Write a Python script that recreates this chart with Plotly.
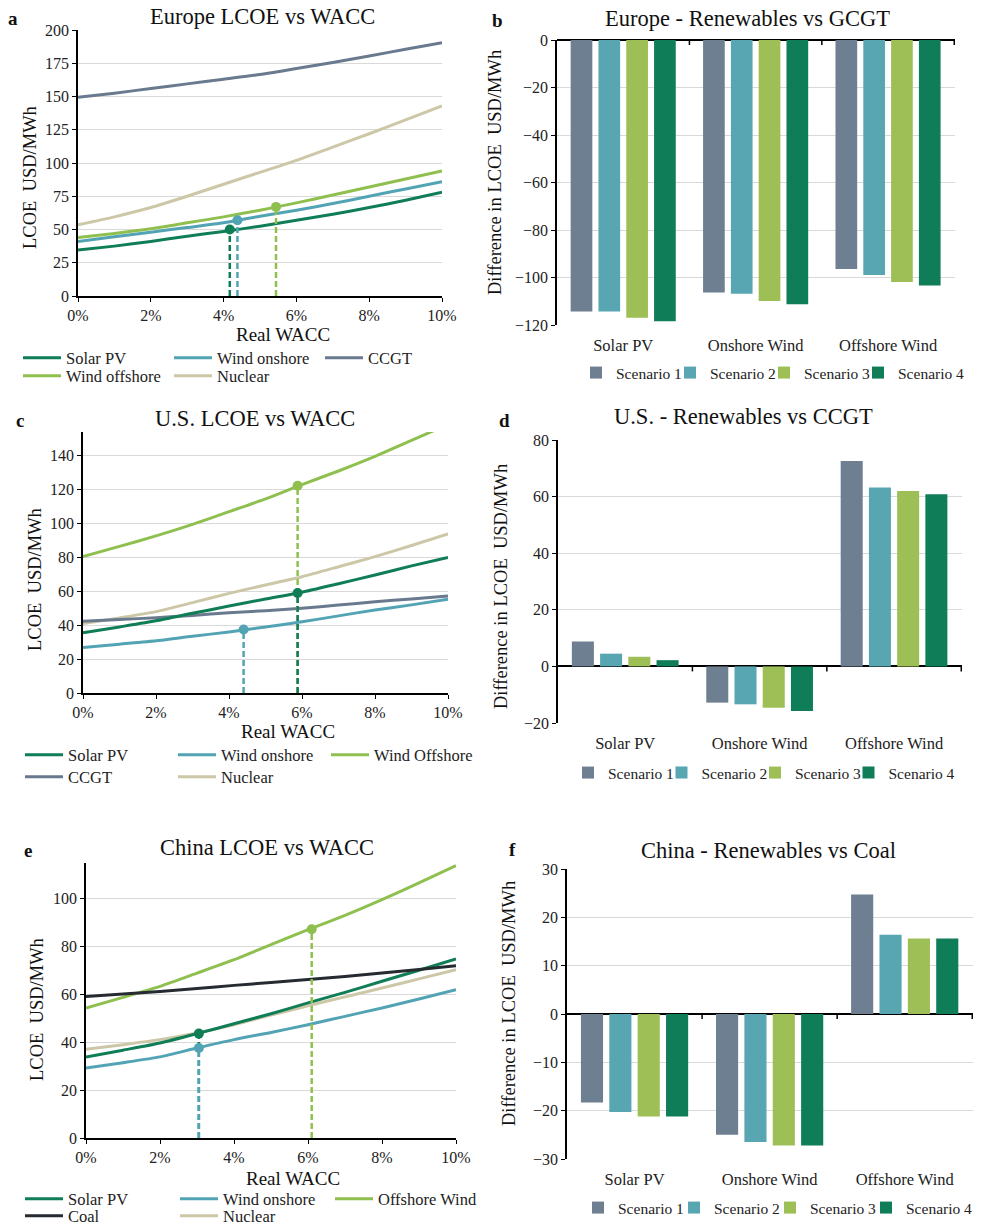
import plotly.graph_objects as go

W, H = 983, 1225
FONT = "'Liberation Serif', 'Times New Roman', serif"

# ---------------- data ----------------
wacc = [0, 1, 2, 3, 4, 5, 6, 7, 8, 9, 10]

# Europe (panel a)
eu_solar = [34.5, 37.5, 41, 45, 48.5, 52.5, 57, 61.5, 66.5, 72, 78]
eu_onshore = [41, 44.5, 48, 51.5, 55, 60, 64.5, 69.5, 75, 80.5, 86]
eu_ccgt = [149.5, 152.5, 156, 159.5, 163, 166.5, 171, 175.5, 180.5, 185.5, 190.5]
eu_offshore = [44, 47, 50.5, 55, 59.5, 64.5, 70, 76, 82, 88, 94]
eu_nuclear = [53.5, 59.5, 66.5, 75, 84, 93, 102, 112, 122, 132.5, 143]
eu_mark_x = [4.17, 4.38, 5.44]
eu_mark_y = [50, 57, 67]

# U.S. (panel c)
us_solar = [35.5, 39, 42.6, 47, 51.3, 55.5, 59.5, 64.5, 69.6, 75, 80]
us_onshore = [26.8, 28.8, 30.8, 33.5, 36, 39, 42, 45.5, 49, 52, 55.4]
us_offshore = [80.5, 86.5, 92.7, 99.5, 107, 114.5, 123, 131, 139.6, 149, 158.5]
us_ccgt = [42.4, 43.4, 44.4, 45.8, 47.3, 48.6, 50, 51.9, 53.8, 55.5, 57.2]
us_nuclear = [41, 44.3, 48, 53.3, 58.8, 63.7, 68.6, 74.5, 80.5, 87, 93.9]
us_mark_x = [5.88, 4.4, 5.88]
us_mark_y = [59, 37.5, 122.3]

# China (panel e)
cn_solar = [33.7, 36.6, 39.6, 43.5, 47.6, 51.8, 56.3, 60.7, 65.3, 69.9, 74.6]
cn_onshore = [29.2, 31.4, 33.8, 37.5, 41, 44, 47.2, 50.7, 54.2, 57.9, 61.8]
cn_offshore = [54.2, 58.6, 63.2, 68.7, 74.3, 80.6, 86.8, 92.8, 99.3, 106.3, 113.5]
cn_coal = [59, 60, 61.1, 62.3, 63.6, 64.8, 66, 67.3, 68.75, 70.2, 71.8]
cn_nuclear = [37, 38.9, 41, 43.8, 47.2, 51.2, 55.1, 58.8, 62.5, 66.3, 70.1]
cn_mark_x = [3.05, 3.05, 6.1]
cn_mark_y = [43.5, 37.5, 87]

# bar panels
categories = ["Solar PV", "Onshore Wind", "Offshore Wind"]
scenarios = ["Scenario 1", "Scenario 2", "Scenario 3", "Scenario 4"]
eu_diff = [[-114.3, -106.3, -96.4],
           [-114.3, -106.8, -98.9],
           [-116.9, -109.9, -101.9],
           [-118.4, -111.3, -103.4]]
us_diff = [[8.8, -12.8, 72.6],
           [4.5, -13.4, 63.2],
           [3.4, -14.6, 62.0],
           [2.2, -15.8, 60.8]]
cn_diff = [[-18.3, -25.0, 24.7],
           [-20.3, -26.5, 16.4],
           [-21.2, -27.2, 15.6],
           [-21.2, -27.2, 15.6]]

C_SOLAR = "#0F7D56"
C_ON = "#52A4B5"
C_CCGT = "#6A7A8E"
C_OFF = "#8FC04F"
C_NUC = "#CCC7A6"
C_COAL = "#262B31"
C_SCEN = ["#6D7F90", "#58A6B2", "#9DBF56", "#0E7D58"]
GRID = "#D9D9D9"


def fx(p):
    return p / W


def fy(p):
    return 1 - p / H


fig = go.Figure()


def line(xax, yax, y, name, color):
    fig.add_trace(go.Scatter(x=wacc, y=y, name=name, mode="lines",
                             line=dict(color=color, width=3, shape="spline", smoothing=0.6),
                             xaxis=xax, yaxis=yax, showlegend=False, hoverinfo="skip"))


def drop(xax, yax, xm, ym, color):
    fig.add_trace(go.Scatter(x=[xm, xm], y=[0, ym], mode="lines",
                             line=dict(color=color, width=2.5, dash="6px,3px"),
                             xaxis=xax, yaxis=yax, showlegend=False, hoverinfo="skip"))
    fig.add_trace(go.Scatter(x=[xm], y=[ym], mode="markers",
                             marker=dict(color=color, size=10),
                             xaxis=xax, yaxis=yax, showlegend=False, hoverinfo="skip"))


def legend_entries(xax, yax, items):
    for nm, col, lg in items:
        fig.add_trace(go.Scatter(x=[None], y=[None], name=nm, mode="lines",
                                 line=dict(color=col, width=3), xaxis=xax, yaxis=yax,
                                 legend=lg, hoverinfo="skip"))


# ---- panel a ----
line("x", "y", eu_nuclear, "Nuclear", C_NUC)
line("x", "y", eu_ccgt, "CCGT", C_CCGT)
line("x", "y", eu_offshore, "Wind offshore", C_OFF)
line("x", "y", eu_onshore, "Wind onshore", C_ON)
line("x", "y", eu_solar, "Solar PV", C_SOLAR)
drop("x", "y", eu_mark_x[2], eu_mark_y[2], C_OFF)
drop("x", "y", eu_mark_x[1], eu_mark_y[1], C_ON)
drop("x", "y", eu_mark_x[0], eu_mark_y[0], C_SOLAR)
legend_entries("x", "y", [("Solar PV", C_SOLAR, "legend"), ("Wind onshore", C_ON, "legend"),
                          ("CCGT", C_CCGT, "legend"), ("Wind offshore", C_OFF, "legend2"),
                          ("Nuclear", C_NUC, "legend2")])

# ---- panel c ----
line("x3", "y3", us_nuclear, "Nuclear", C_NUC)
line("x3", "y3", us_ccgt, "CCGT", C_CCGT)
line("x3", "y3", us_onshore, "Wind onshore", C_ON)
line("x3", "y3", us_solar, "Solar PV", C_SOLAR)
line("x3", "y3", us_offshore, "Wind Offshore", C_OFF)
drop("x3", "y3", us_mark_x[2], us_mark_y[2], C_OFF)
drop("x3", "y3", us_mark_x[0], us_mark_y[0], C_SOLAR)
drop("x3", "y3", us_mark_x[1], us_mark_y[1], C_ON)
legend_entries("x3", "y3", [("Solar PV", C_SOLAR, "legend3"), ("Wind onshore", C_ON, "legend3"),
                            ("Wind Offshore", C_OFF, "legend3"), ("CCGT", C_CCGT, "legend4"),
                            ("Nuclear", C_NUC, "legend4")])

# ---- panel e ----
line("x5", "y5", cn_nuclear, "Nuclear", C_NUC)
line("x5", "y5", cn_solar, "Solar PV", C_SOLAR)
line("x5", "y5", cn_onshore, "Wind onshore", C_ON)
line("x5", "y5", cn_offshore, "Offshore Wind", C_OFF)
line("x5", "y5", cn_coal, "Coal", C_COAL)
drop("x5", "y5", cn_mark_x[2], cn_mark_y[2], C_OFF)
drop("x5", "y5", cn_mark_x[0], cn_mark_y[0], C_SOLAR)
drop("x5", "y5", cn_mark_x[1], cn_mark_y[1], C_ON)
legend_entries("x5", "y5", [("Solar PV", C_SOLAR, "legend5"), ("Wind onshore", C_ON, "legend5"),
                            ("Offshore Wind", C_OFF, "legend5"), ("Coal", C_COAL, "legend6"),
                            ("Nuclear", C_NUC, "legend6")])

# ---- bar panels (each scenario in its own one-item legend) ----
bar_panels = [(eu_diff, "x2", "y2", 7), (us_diff, "x4", "y4", 11), (cn_diff, "x6", "y6", 15)]
for data, xax, yax, l0 in bar_panels:
    for i, s in enumerate(scenarios):
        fig.add_trace(go.Bar(x=categories, y=data[i], name=s, marker_color=C_SCEN[i],
                             marker_line_width=0, xaxis=xax, yaxis=yax,
                             legend="legend%d" % (l0 + i), hoverinfo="skip"))

# ---------------- layout ----------------
tickfont = dict(family=FONT, size=16, color="#222")


def line_axes(xn, yn, xpx, ypx, yrange, dtick):
    fig.layout[xn] = dict(domain=[fx(xpx[0]), fx(xpx[1])], range=[0, 10], dtick=2,
                          ticksuffix="%", showgrid=False, showline=True, linecolor="black",
                          linewidth=1.5, ticks="outside", ticklen=4, tickcolor="black",
                          tickfont=tickfont, zeroline=False, anchor=yn.replace("axis", ""),
                          fixedrange=True, automargin=False)
    fig.layout[yn] = dict(domain=[fy(ypx[1]), fy(ypx[0])], range=yrange, dtick=dtick,
                          showgrid=True, gridcolor=GRID, gridwidth=1, showline=True,
                          linecolor="black", linewidth=1.5, ticks="outside", ticklen=4,
                          tickcolor="black", tickfont=tickfont, zeroline=False,
                          anchor=xn.replace("axis", ""), fixedrange=True, automargin=False)


def bar_axes(xn, yn, xpx, ypx, yrange, dtick):
    fig.layout[xn] = dict(domain=[fx(xpx[0]), fx(xpx[1])], type="category",
                          showgrid=False, showline=False, ticks="", ticklabelstandoff=8,
                          tickfont=dict(family=FONT, size=16.5, color="#222"),
                          anchor=yn.replace("axis", ""), fixedrange=True, automargin=False)
    fig.layout[yn] = dict(domain=[fy(ypx[1]), fy(ypx[0])], range=yrange, dtick=dtick,
                          showgrid=True, gridcolor=GRID, gridwidth=1, showline=True,
                          linecolor="black", linewidth=1.5, ticks="outside", ticklen=4,
                          tickcolor="black", tickfont=tickfont, zeroline=True,
                          zerolinecolor="black", zerolinewidth=1.5,
                          anchor=xn.replace("axis", ""), fixedrange=True, automargin=False)


line_axes("xaxis", "yaxis", (78, 442), (30, 296), [0, 200], 25)
bar_axes("xaxis2", "yaxis2", (557, 955), (40, 325), [-120, 0], 20)
line_axes("xaxis3", "yaxis3", (83, 448), (432, 693), [0, 154], 20)
bar_axes("xaxis4", "yaxis4", (558, 962), (440, 723), [-20, 80], 20)
line_axes("xaxis5", "yaxis5", (86, 456), (863, 1138), [0, 114.6], 20)
bar_axes("xaxis6", "yaxis6", (567, 973), (869, 1159), [-30, 30], 10)

# small category-boundary tick marks on the zero line of the bar panels
shapes = []
for xr, yr in [("x2", "y2"), ("x4", "y4"), ("x6", "y6")]:
    for b in [0.5, 1.5, 2.5]:
        shapes.append(dict(type="line", xref=xr, yref=yr, x0=b, x1=b,
                           ysizemode="pixel", yanchor=0, y0=0, y1=-5,
                           line=dict(color="black", width=1.5)))


def legend(xpx, ypx, size, ew=0, iw=38):
    d = dict(x=fx(xpx), y=fy(ypx), xanchor="left", yanchor="middle", orientation="h",
             font=dict(family=FONT, size=size, color="#222"), bgcolor="rgba(0,0,0,0)",
             itemwidth=iw, tracegroupgap=0, traceorder="normal",
             itemclick=False, itemdoubleclick=False)
    if ew:
        d.update(entrywidth=ew, entrywidthmode="pixels")
    return d


legends = dict(
    legend=legend(18, 358, 16.5, 98),
    legend2=legend(18, 376, 16.5, 98),
    legend3=legend(20, 755, 16.5, 100),
    legend4=legend(20, 777, 16.5, 100),
    legend5=legend(20, 1199, 16.5, 102),
    legend6=legend(20, 1216, 16.5, 102),
)
# bar legends: starting x of first entry and pitch per panel
bar_leg_pos = [(7, 576, 373, 94), (11, 568, 773, 93.5), (15, 578, 1208, 96)]
for l0, x0, y0, pitch in bar_leg_pos:
    for i in range(4):
        legends["legend%d" % (l0 + i)] = legend(x0 + i * pitch, y0, 15.5, 0, 30)
fig.update_layout(**legends)

ann = []


def text(x, y, s, size, bold=False, angle=0):
    ann.append(dict(x=fx(x), y=fy(y), xref="paper", yref="paper",
                    text=("<b>%s</b>" % s) if bold else s,
                    showarrow=False, xanchor="center", yanchor="middle", textangle=angle,
                    font=dict(family=FONT, size=size, color="#111")))


# panel letters
text(13, 19, "a", 19, True)
text(497, 21, "b", 19, True)
text(20, 420, "c", 19, True)
text(505, 420, "d", 19, True)
text(28, 850, "e", 19, True)
text(512, 849, "f", 19, True)
# titles
text(262, 17, "Europe LCOE vs WACC", 22.5)
text(747, 19, "Europe - Renewables vs GCGT", 22.5)
text(255, 418, "U.S. LCOE vs WACC", 22.5)
text(743, 417, "U.S. - Renewables vs CCGT", 22.5)
text(267, 847, "China LCOE vs WACC", 22.5)
text(768, 850, "China - Renewables vs Coal", 22.5)
# axis titles
YT = "LCOE\u00a0 USD/MWh"
DT = "Difference in LCOE\u00a0 USD/MWh"
text(30, 178, YT, 18.5, angle=-90)
text(283, 335, "Real WACC", 19)
text(35, 580, YT, 18.5, angle=-90)
text(288, 732, "Real WACC", 19)
text(37, 1010, YT, 18.5, angle=-90)
text(293, 1178, "Real WACC", 19)
text(495, 173, DT, 18.5, angle=-90)
text(501, 587, DT, 18.5, angle=-90)
text(509, 1004, DT, 18.5, angle=-90)

fig.update_layout(
    width=W, height=H, margin=dict(l=0, r=0, t=0, b=0, autoexpand=False),
    paper_bgcolor="white", plot_bgcolor="white",
    barmode="group", bargap=0.16, bargroupgap=0.22,
    annotations=ann, shapes=shapes, font=dict(family=FONT, color="#222"),
    hovermode=False,
)

fig.write_html("out.html", config={"displayModeBar": False},
               post_script="document.body.style.margin='0px';")
